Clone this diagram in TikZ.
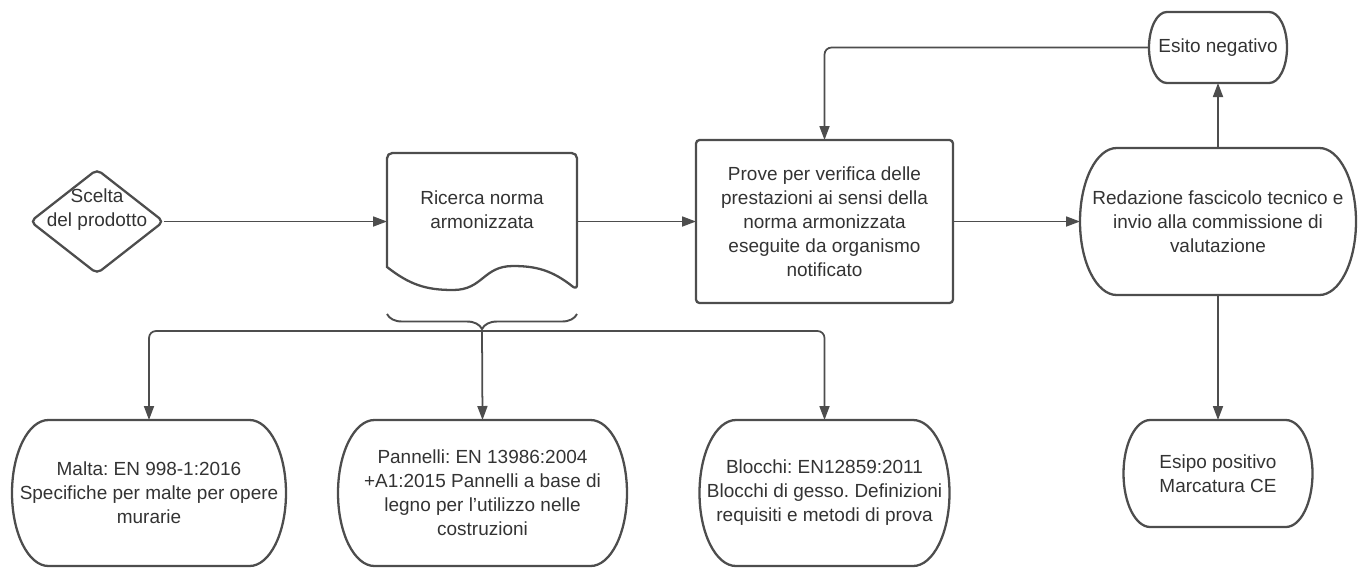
\documentclass[tikz,border=0pt]{standalone}
\usepackage{fontspec}
\setmainfont{Liberation Sans}
\usetikzlibrary{shapes.geometric, arrows.meta, calc, decorations.pathreplacing}
\definecolor{linegray}{HTML}{4D4D4D}
\definecolor{textgray}{HTML}{333333}
\frenchspacing

\begin{document}
\begin{tikzpicture}[
    font=\fontsize{10.8}{13.7}\selectfont,
    text=textgray,
    outline/.style={draw=linegray, line width=1.3pt},
    box/.style={outline, rounded corners=2pt, align=center, outer sep=0pt},
    term/.style={align=center, outer sep=0pt, inner sep=0pt},
    lbl/.style={align=center, yshift=0.23cm},
    arrow/.style={draw=linegray, line width=1pt, -{Triangle[length=2.8mm, width=2mm]}}
]
    \useasboundingbox (0,0) rectangle (27.16,-11.42);

    % Start: product choice
    \node[diamond, outline, rounded corners=3pt, minimum width=2.66cm, minimum height=2.08cm,
          inner sep=0pt, outer sep=0pt, label={[lbl]center:Scelta\\del prodotto}] (scelta) at (1.94,-4.43) {};

    % Document shape: search for the standard
    \node[minimum width=3.8cm, minimum height=2.74cm, outer sep=0pt,
          label={[lbl]center:Ricerca norma\\armonizzata}] (ricerca) at (9.64,-4.43) {};
    \draw[outline] (ricerca.south east)
        .. controls +(-0.5,0.4) and +(0.45,0) .. ([xshift=-1.28cm, yshift=0.48cm]ricerca.south east)
        .. controls +(-0.6,0) and +(0.6,0) .. ([xshift=1.32cm]ricerca.south west)
        .. controls +(-0.55,0) and +(0.45,-0.35) .. ([yshift=0.46cm]ricerca.south west)
        [rounded corners=3pt] -- (ricerca.north west) -- (ricerca.north east) -- cycle;

    % Tests by the notified body
    \node[box, minimum width=5.14cm, minimum height=3.26cm] (prove) at (16.49,-4.43)
        {Prove per verifica delle\\prestazioni ai sensi della\\norma armonizzata\\eseguite da organismo\\notificato};

    % Right column
    \node[term, minimum width=2.76cm, minimum height=1.42cm] (esito) at (24.36,-0.95) {Esito negativo};
    \node[term, minimum width=5.52cm, minimum height=2.94cm] (redazione) at (24.36,-4.43)
        {Redazione fascicolo tecnico e\\invio alla commissione di\\valutazione};
    \node[term, minimum width=3.78cm, minimum height=2.14cm] (esipo) at (24.36,-9.47)
        {Esipo positivo\\Marcatura CE};

    % Standards found
    \node[term, minimum width=5.48cm, minimum height=2.92cm] (malta) at (2.98,-9.86)
        {Malta: EN 998-1:2016\\Specifiche per malte per opere\\murarie};
    \node[term, minimum width=5.78cm, minimum height=2.92cm] (pannelli) at (9.65,-9.86)
        {Pannelli: EN 13986:2004\\+A1:2015 Pannelli a base di\\legno per l'utilizzo nelle\\costruzioni};
    \node[term, minimum width=5.0cm, minimum height=2.92cm] (blocchi) at (16.49,-9.86)
        {Blocchi: EN12859:2011\\Blocchi di gesso. Definizioni\\requisiti e metodi di prova};

    % Terminator outlines
    \foreach \nd in {esito, redazione, esipo, malta, pannelli, blocchi}
        \draw[outline] let \p1=(\nd.north west), \p2=(\nd.south east),
            \n1={(\y1-\y2)/2}, \n2={(\y1-\y2)/4} in
            ({\x1+\n2*1pt},\y1) -- ({\x2-\n2*1pt},\y1)
            arc[start angle=90, end angle=-90, x radius=\n2*1pt, y radius=\n1*1pt]
            -- ({\x1+\n2*1pt},\y2)
            arc[start angle=270, end angle=90, x radius=\n2*1pt, y radius=\n1*1pt] -- cycle;

    % Main flow
    \draw[arrow] (scelta.east) -- (ricerca.west);
    \draw[arrow] (ricerca.east) -- (prove.west);
    \draw[arrow] (prove.east) -- (redazione.west);
    \draw[arrow] (redazione.north) -- (esito.south);
    \draw[arrow] (redazione.south) -- (esipo.north);
    \draw[arrow, rounded corners=4pt] (esito.west) -| (prove.north);

    % Brace and branches to the standards
    \draw[outline, line width=1.1pt, decorate, decoration={brace, mirror, amplitude=0.3cm}]
        ([yshift=-0.48cm]ricerca.south west) -- ([yshift=-0.48cm]ricerca.south east);
    \coordinate (bracetip) at ([yshift=-0.82cm]ricerca.south);
    \draw[arrow, rounded corners=4pt] (bracetip) -| (malta.north);
    \draw[arrow] (bracetip) -- (pannelli.north);
    \draw[arrow, rounded corners=4pt] (bracetip) -| (blocchi.north);
\end{tikzpicture}
\end{document}
